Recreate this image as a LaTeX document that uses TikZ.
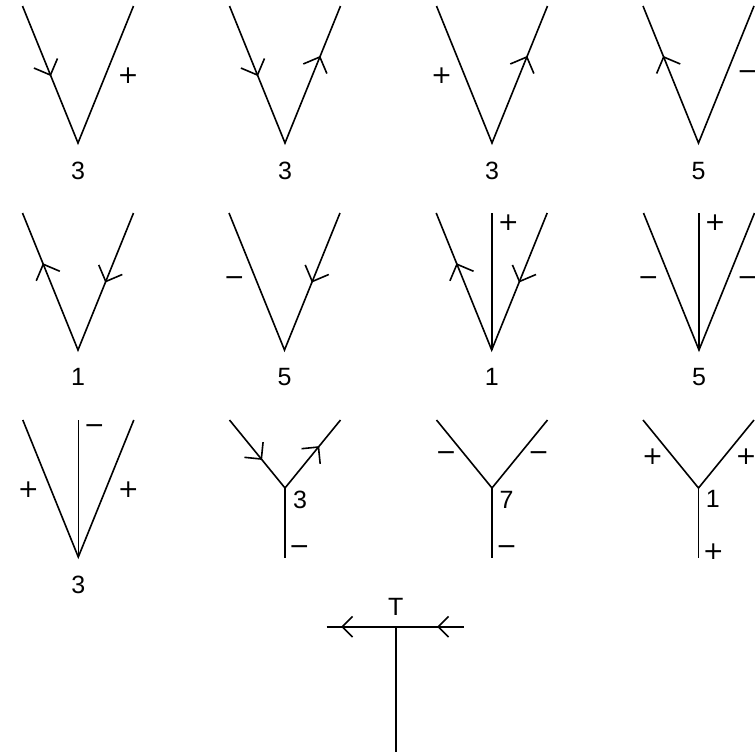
\documentclass[tikz,border=0pt]{standalone}
\usepackage{fontspec}
\setmainfont{Liberation Sans}
\newfontfamily\signfont{DejaVu Sans}
\usetikzlibrary{calc}
\tikzset{
  ln/.style={line width=1.6pt},
  lab/.style={inner sep=0pt, font=\fontsize{25}{30}\selectfont},
  sgn/.style={inner sep=0pt, font=\fontsize{25}{30}\selectfont\signfont},
}
% V panel: name, vertex x, top y, vertex y
\newcommand\Vpanel[4]{%
  \coordinate (#1L) at (#2-55.5,#3);
  \coordinate (#1V) at (#2,#4);
  \coordinate (#1R) at (#2+55.5,#3);
  \coordinate (#1M) at (#2,#3);
  \draw[ln] (#1L) -- (#1V) -- (#1R);}
% barb arrowhead: [length] tip, back point
\newcommand\mybarb[3][18pt]{%
  \draw[ln] ($(#2)!#1!45:(#3)$) -- (#2) -- ($(#2)!#1!-45:(#3)$);}
\begin{document}
\begin{tikzpicture}[x=1pt,y=-1pt]
\useasboundingbox (0,0) rectangle (755,753);

% ---------- Row 1 ----------
\Vpanel{a}{78}{6}{143}
\coordinate (aT1) at ($(aL)!0.504!(aV)$); \mybarb{aT1}{aL}
\node[sgn] (aP) at (128,76) {+};
\node[lab] (aN) at (78,171) {3};

\Vpanel{b}{285}{6}{143}
\coordinate (bT1) at ($(bL)!0.504!(bV)$); \mybarb{bT1}{bL}
\coordinate (bT2) at ($(bV)!0.628!(bR)$); \mybarb{bT2}{bV}
\node[lab] (bN) at (285,171) {3};

\Vpanel{c}{492}{6}{143}
\coordinate (cT2) at ($(cV)!0.628!(cR)$); \mybarb{cT2}{cV}
\node[sgn] (cP) at (441.7,76) {+};
\node[lab] (cN) at (492,171) {3};

\Vpanel{d}{698.5}{6}{143}
\coordinate (dT1) at ($(dV)!0.628!(dL)$); \mybarb{dT1}{dV}
\node[sgn] (dP) at (747.7,75) {−};
\node[lab] (dN) at (698.5,171) {5};

% ---------- Row 2 ----------
\Vpanel{e}{78}{213}{350}
\coordinate (eT1) at ($(eV)!0.626!(eL)$); \mybarb{eT1}{eV}
\coordinate (eT2) at ($(eR)!0.5!(eV)$); \mybarb{eT2}{eR}
\node[lab] (eN) at (78,377) {1};

\Vpanel{f}{284.5}{213}{350}
\coordinate (fT2) at ($(fR)!0.5!(fV)$); \mybarb{fT2}{fR}
\node[sgn] (fP) at (234.3,281) {−};
\node[lab] (fN) at (284.5,377) {5};

\Vpanel{g}{491.7}{213}{350}
\draw[ln] (gV) -- (gM);
\coordinate (gT1) at ($(gV)!0.626!(gL)$); \mybarb{gT1}{gV}
\coordinate (gT2) at ($(gR)!0.5!(gV)$); \mybarb{gT2}{gR}
\node[sgn] (gP) at (508.3,222.7) {+};
\node[lab] (gN) at (491.7,377) {1};

\Vpanel{h}{699}{213}{350}
\draw[ln] (hV) -- (hM);
\node[sgn] (hP) at (715,222.7) {+};
\node[sgn] (hA) at (648.3,281) {−};
\node[sgn] (hB) at (747.7,281) {−};
\node[lab] (hN) at (699,377) {5};

% ---------- Row 3 ----------
\Vpanel{i}{78.3}{420}{557}
\draw[ln] (iV) -- (iM);
\node[sgn] (iP) at (94.3,429) {−};
\node[sgn] (iA) at (28.3,490) {+};
\node[sgn] (iB) at (128.3,490) {+};
\node[lab] (iN) at (78.3,585) {3};

% Y panels: arms and stem
\Vpanel{j}{285}{420}{488}
\coordinate (jS) at (285,558);
\draw[ln] (jV) -- (jS);
\coordinate (jT1) at ($(jL)!0.574!(jV)$); \mybarb[17pt]{jT1}{jL}
\coordinate (jT2) at ($(jV)!0.603!(jR)$); \mybarb[17pt]{jT2}{jV}
\node[lab] (jN) at (300,500) {3};
\node[sgn] (jP) at (299.3,550) {−};

\Vpanel{k}{492}{420}{488}
\coordinate (kS) at (492,558);
\draw[ln] (kV) -- (kS);
\node[sgn] (kA) at (446,456) {−};
\node[sgn] (kB) at (538.5,456) {−};
\node[lab] (kN) at (506.5,500) {7};
\node[sgn] (kP) at (506.5,550) {−};

\Vpanel{l}{698.5}{420}{488}
\coordinate (lS) at (698.5,558);
\draw[ln] (lV) -- (lS);
\node[sgn] (lA) at (652.7,456.7) {+};
\node[sgn] (lB) at (746,456.7) {+};
\node[lab] (lN) at (712.7,499) {1};
\node[sgn] (lP) at (713.3,551.7) {+};

% ---------- T ----------
\coordinate (tL) at (326.7,626.7);
\coordinate (tR) at (464,626.7);
\coordinate (tJ) at (395.7,626.7);
\coordinate (tB) at (395.7,751.7);
\draw[ln] (tL) -- (tR);
\draw[ln] (tJ) -- (tB);
\coordinate (tA1) at (342.3,626.7); \mybarb[14.5pt]{tA1}{tR}
\coordinate (tA2) at (438.3,626.7); \mybarb[14.5pt]{tA2}{tR}
\node[lab] (tT) at (395.7,606.7) {T};
\end{tikzpicture}
\end{document}
